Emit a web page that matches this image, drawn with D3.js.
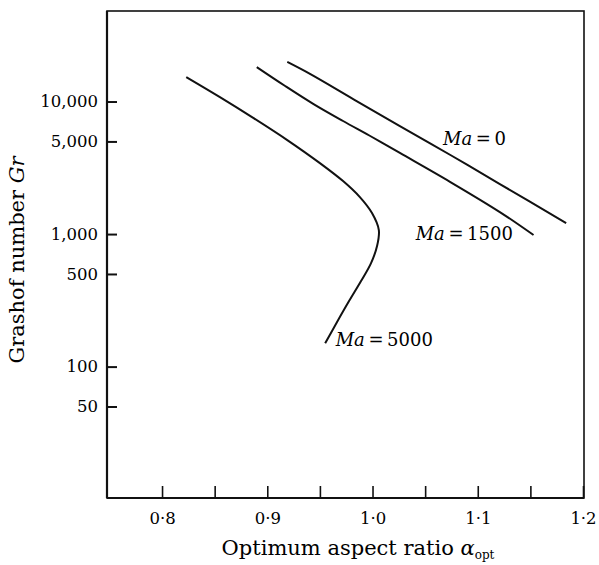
<!DOCTYPE html>
<html>
<head>
<meta charset="UTF-8">
<title>Optimum aspect ratio</title>
<script src="https://d3js.org/d3.v7.min.js"></script>
<style>
  body { margin: 0; background: #fff; }
  svg text { font-family: 'DejaVu Serif', serif; fill: #000; }
</style>
</head>
<body>
<div id="chart"></div>
<script>
// values: optimum aspect ratio against Grashof number
var ma0Alpha = [0.919, 0.941, 0.982, 1.026, 1.074, 1.121, 1.184];
var ma0Gr    = [19900, 16100, 10400, 6530, 3950, 2385, 1210];

var ma1500Alpha = [0.890, 0.917, 0.944, 0.972, 0.9995, 1.026, 1.074, 1.121, 1.153];
var ma1500Gr    = [18200, 13100, 9570, 7130, 5400, 4090, 2470, 1466, 983];

var ma5000Alpha = [0.823, 0.855, 0.887, 0.919, 0.950, 0.972, 0.988, 0.9995, 1.006, 1.0043, 0.9986, 0.9891, 0.9777, 0.9663, 0.955];
var ma5000Gr    = [15300, 10800, 7500, 5120, 3430, 2510, 1900, 1440, 1072, 812, 604, 442, 312, 217, 150];

var maValues = ["0", "1500", "5000"];
// where each curve label starts (alpha, Gr)
var labelAlpha = [1.067, 1.041, 0.965];
var labelGr    = [4700, 900, 143];

var grTicks = [50, 100, 500, 1000, 5000, 10000];
var grTickLabels = ["50", "100", "500", "1,000", "5,000", "10,000"];
var alphaTicks = [0.8, 0.85, 0.9, 0.95, 1.0, 1.05, 1.1, 1.15, 1.2];
var alphaTickLabels = ["0·8", "", "0·9", "", "1·0", "", "1·1", "", "1·2"];

var series = [
  {alpha: ma0Alpha, gr: ma0Gr},
  {alpha: ma1500Alpha, gr: ma1500Gr},
  {alpha: ma5000Alpha, gr: ma5000Gr}
];

var width = 599, height = 565;

var svg = d3.select("#chart")
  .append("svg")
    .attr("width", width)
    .attr("height", height);

var x = d3.scaleLinear()
  .domain([0.7477, 1.2])
  .range([107, 583]);

var y = d3.scaleLog()
  .domain([10.2, 48200])
  .range([498, 11]);

// y axis, ticks point inwards
var yAxis = svg.append("g")
  .attr("transform", "translate(" + x.range()[0] + ",0)")
  .call(d3.axisLeft(y)
    .tickValues(grTicks)
    .tickSize(-10)
    .tickPadding(9)
    .tickFormat(function(d, i) { return grTickLabels[i]; }));
yAxis.select(".domain").remove();
yAxis.selectAll("line").attr("stroke", "#111").attr("stroke-width", 2);
yAxis.selectAll("text")
  .attr("font-family", "DejaVu Serif")
  .attr("font-size", 16.5);

// x axis
var xAxis = svg.append("g")
  .attr("transform", "translate(0," + y.range()[0] + ")")
  .call(d3.axisBottom(x)
    .tickValues(alphaTicks)
    .tickSize(-12)
    .tickPadding(14)
    .tickFormat(function(d, i) { return alphaTickLabels[i]; }));
xAxis.select(".domain").remove();
xAxis.selectAll("line").attr("stroke", "#111").attr("stroke-width", 1.6);
xAxis.selectAll("text")
  .attr("font-family", "DejaVu Serif")
  .attr("font-size", 16.5);

// frame
svg.append("rect")
  .attr("x", x.range()[0])
  .attr("y", y.range()[1])
  .attr("width", x.range()[1] + 1 - x.range()[0])
  .attr("height", y.range()[0] - y.range()[1])
  .attr("fill", "none")
  .attr("stroke", "#111")
  .attr("stroke-width", 1.6);
svg.append("line")
  .attr("x1", x.range()[0]).attr("x2", x.range()[0])
  .attr("y1", y.range()[1]).attr("y2", y.range()[0])
  .attr("stroke", "#111").attr("stroke-width", 2.2);
svg.append("line")
  .attr("x1", x.range()[0]).attr("x2", x.range()[1] + 1)
  .attr("y1", y.range()[0]).attr("y2", y.range()[0])
  .attr("stroke", "#111").attr("stroke-width", 2.2);

// curves
var line = d3.line()
  .x(function(d) { return x(d[0]); })
  .y(function(d) { return y(d[1]); })
  .curve(d3.curveCatmullRom.alpha(0.5));

series.forEach(function(s) {
  var pts = s.alpha.map(function(a, i) { return [a, s.gr[i]]; });
  svg.append("path")
    .datum(pts)
    .attr("fill", "none")
    .attr("stroke", "#111")
    .attr("stroke-width", 2)
    .attr("d", line);
});

// curve labels
maValues.forEach(function(v, i) {
  var t = svg.append("text")
    .attr("x", x(labelAlpha[i]))
    .attr("y", y(labelGr[i]))
    .attr("font-size", 18);
  t.append("tspan").attr("font-style", "italic").text("Ma");
  t.append("tspan").text("\u2009=\u2009" + v);
});

// axis titles
var xt = svg.append("text")
  .attr("x", 358)
  .attr("y", 555)
  .attr("text-anchor", "middle")
  .attr("font-size", 21);
xt.append("tspan").text("Optimum aspect ratio ");
xt.append("tspan").attr("font-style", "italic").text("\u03b1");
xt.append("tspan").attr("font-size", 12).attr("dy", 4).text("opt");

var yt = svg.append("text")
  .attr("transform", "translate(24,260) rotate(-90)")
  .attr("text-anchor", "middle")
  .attr("font-size", 21);
yt.append("tspan").text("Grashof number ");
yt.append("tspan").attr("font-style", "italic").text("Gr");
</script>
</body>
</html>
